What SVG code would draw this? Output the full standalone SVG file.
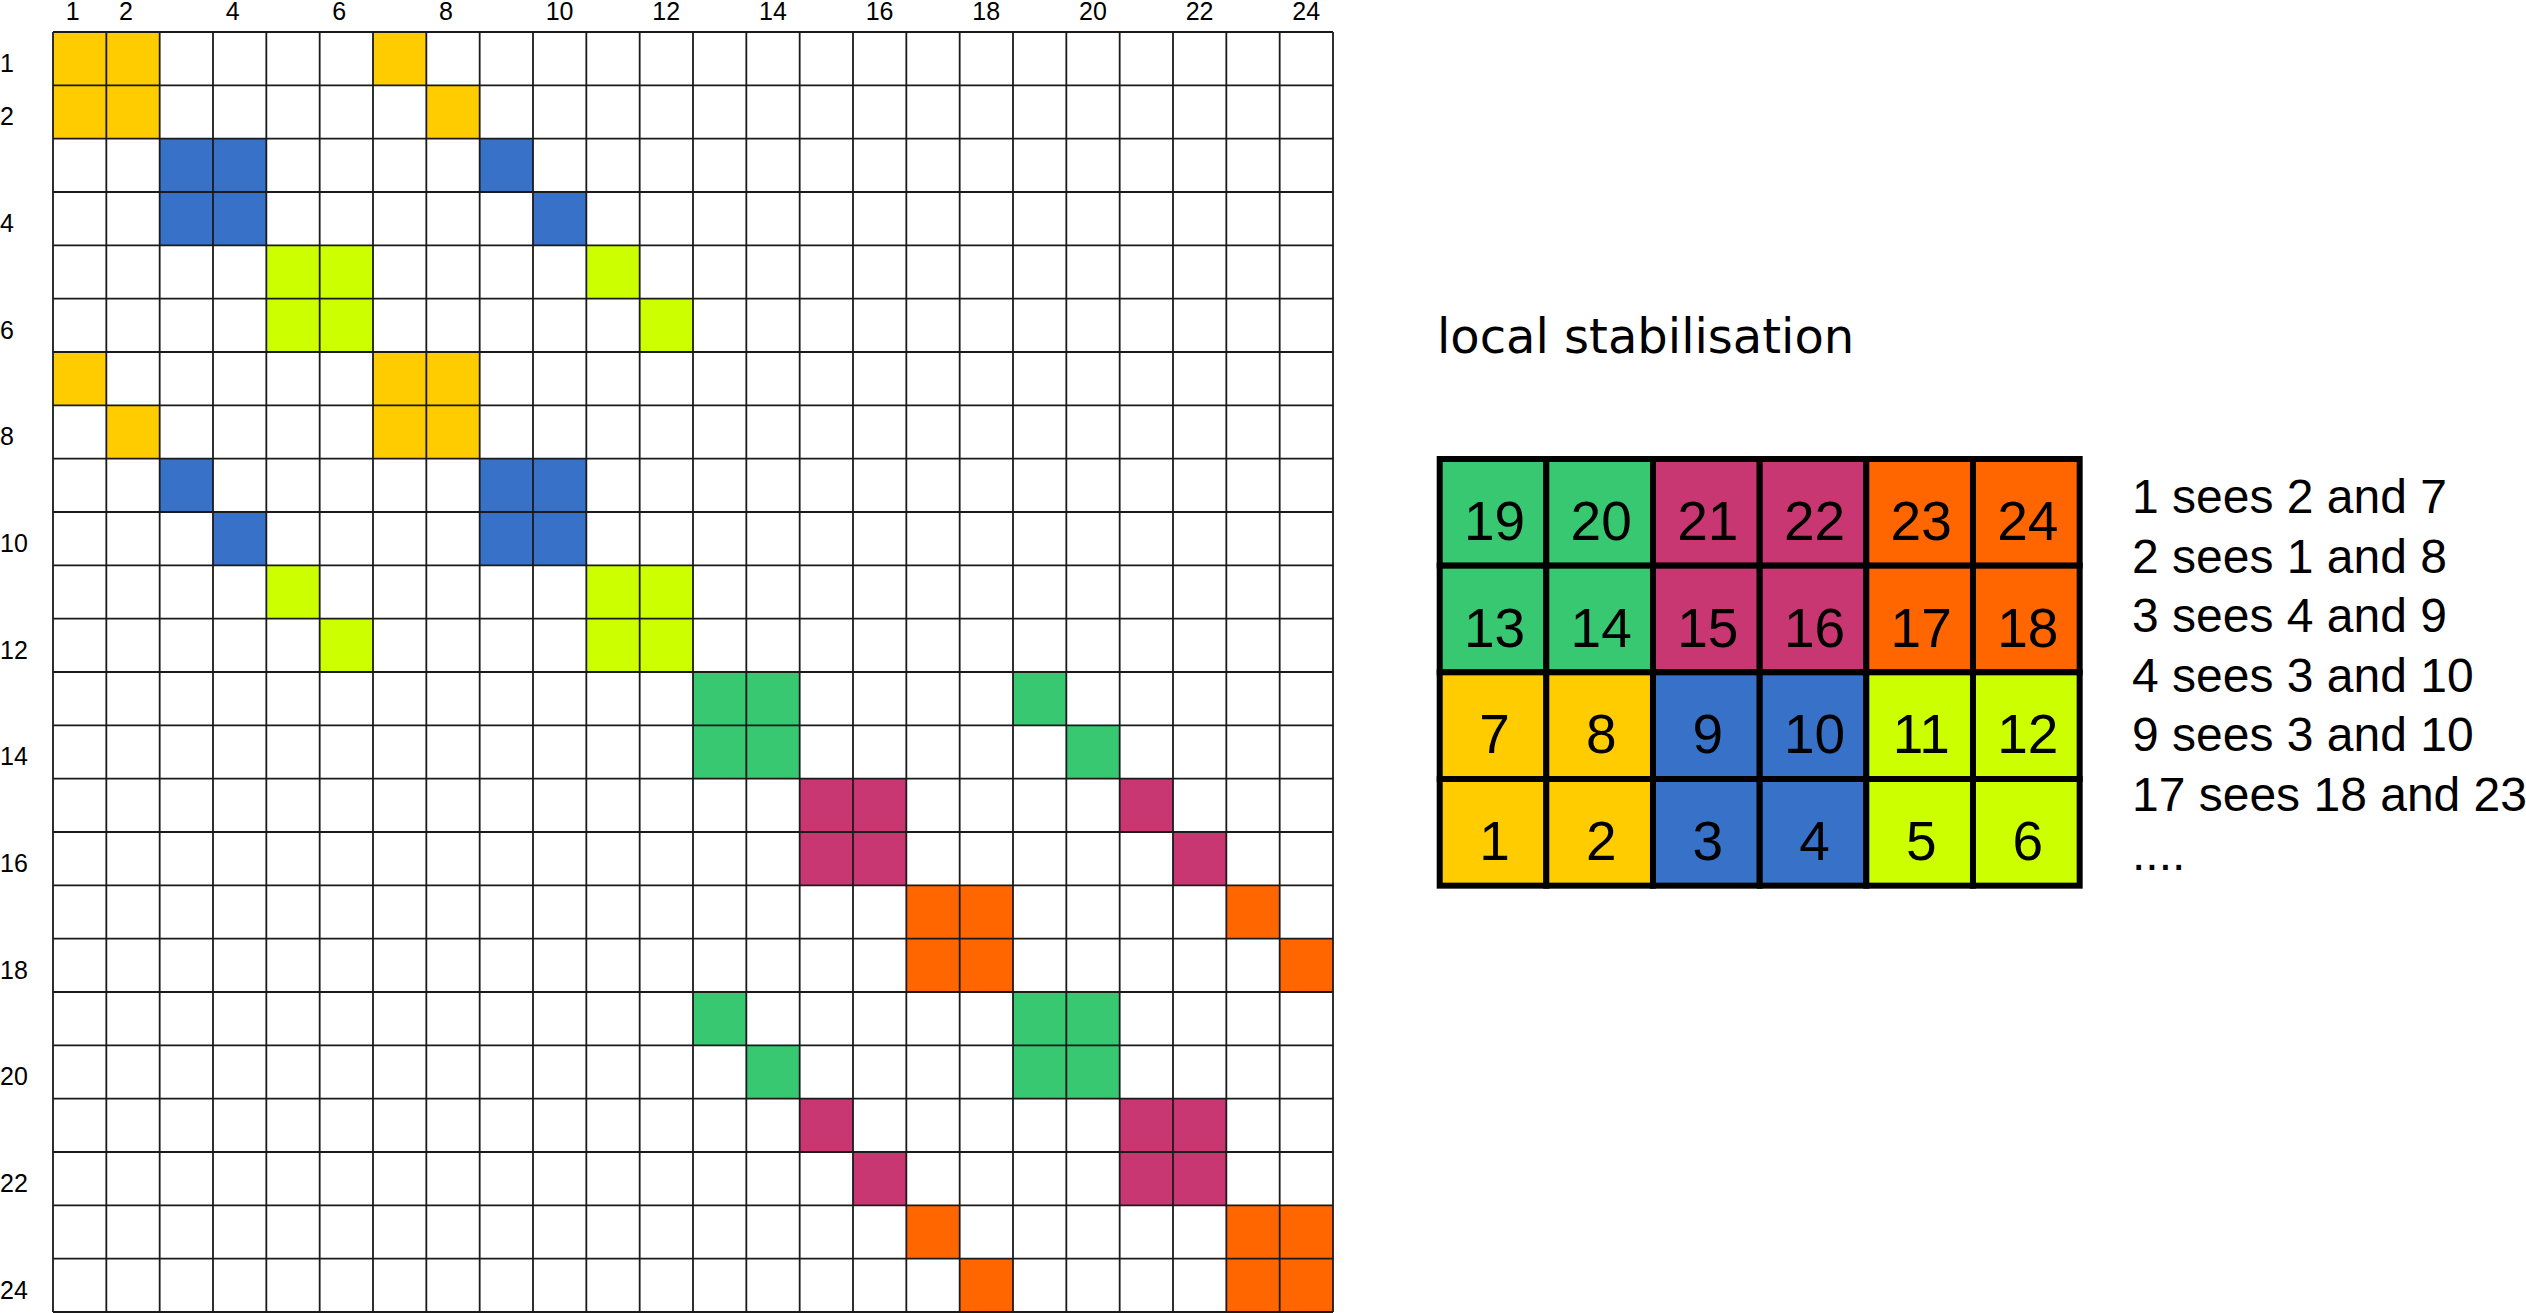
<svg xmlns="http://www.w3.org/2000/svg" width="2526" height="1313" viewBox="0 0 2526 1313">
<style>
.y{fill:#ffcc00}.b{fill:#3771c8}.l{fill:#ccff00}.g{fill:#37c871}.m{fill:#c83771}.o{fill:#ff6600}
.grid{fill:none;stroke:#1a1a1a;stroke-width:1.8}
.lab{font-family:"Liberation Sans",Arial,sans-serif;font-size:25px;fill:#000}
.cell{stroke:#000;stroke-width:6}
.num{font-family:"Liberation Sans",Arial,sans-serif;font-size:55px;fill:#000;text-anchor:middle}
.txt{font-family:"Liberation Sans",Arial,sans-serif;font-size:48px;fill:#000}
.title{font-family:"DejaVu Sans",sans-serif;font-size:48px;fill:#000}
</style>
<rect width="2526" height="1313" fill="#fff"/>
<g id="matrix">
<g id="fills">
<rect class="y" x="53" y="32" width="106.67" height="106.67"/>
<rect class="y" x="373" y="32" width="53.33" height="53.33"/>
<rect class="y" x="426.33" y="85.33" width="53.33" height="53.33"/>
<rect class="y" x="53" y="352" width="53.33" height="53.33"/>
<rect class="y" x="106.33" y="405.33" width="53.33" height="53.33"/>
<rect class="y" x="373" y="352" width="106.67" height="106.67"/>
<rect class="b" x="159.67" y="138.67" width="106.67" height="106.67"/>
<rect class="b" x="479.67" y="138.67" width="53.33" height="53.33"/>
<rect class="b" x="533" y="192" width="53.33" height="53.33"/>
<rect class="b" x="159.67" y="458.67" width="53.33" height="53.33"/>
<rect class="b" x="213" y="512" width="53.33" height="53.33"/>
<rect class="b" x="479.67" y="458.67" width="106.67" height="106.67"/>
<rect class="l" x="266.33" y="245.33" width="106.67" height="106.67"/>
<rect class="l" x="586.33" y="245.33" width="53.33" height="53.33"/>
<rect class="l" x="639.67" y="298.67" width="53.33" height="53.33"/>
<rect class="l" x="266.33" y="565.33" width="53.33" height="53.33"/>
<rect class="l" x="319.67" y="618.67" width="53.33" height="53.33"/>
<rect class="l" x="586.33" y="565.33" width="106.67" height="106.67"/>
<rect class="g" x="693" y="672" width="106.67" height="106.67"/>
<rect class="g" x="1013" y="672" width="53.33" height="53.33"/>
<rect class="g" x="1066.33" y="725.33" width="53.33" height="53.33"/>
<rect class="g" x="693" y="992" width="53.33" height="53.33"/>
<rect class="g" x="746.33" y="1045.33" width="53.33" height="53.33"/>
<rect class="g" x="1013" y="992" width="106.67" height="106.67"/>
<rect class="m" x="799.67" y="778.67" width="106.67" height="106.67"/>
<rect class="m" x="1119.67" y="778.67" width="53.33" height="53.33"/>
<rect class="m" x="1173" y="832" width="53.33" height="53.33"/>
<rect class="m" x="799.67" y="1098.67" width="53.33" height="53.33"/>
<rect class="m" x="853" y="1152" width="53.33" height="53.33"/>
<rect class="m" x="1119.67" y="1098.67" width="106.67" height="106.67"/>
<rect class="o" x="906.33" y="885.33" width="106.67" height="106.67"/>
<rect class="o" x="1226.33" y="885.33" width="53.33" height="53.33"/>
<rect class="o" x="1279.67" y="938.67" width="53.33" height="53.33"/>
<rect class="o" x="906.33" y="1205.33" width="53.33" height="53.33"/>
<rect class="o" x="959.67" y="1258.67" width="53.33" height="53.33"/>
<rect class="o" x="1226.33" y="1205.33" width="106.67" height="106.67"/>
</g>
<path class="grid" d="M53,32H1333M53,85.33H1333M53,138.67H1333M53,192H1333M53,245.33H1333M53,298.67H1333M53,352H1333M53,405.33H1333M53,458.67H1333M53,512H1333M53,565.33H1333M53,618.67H1333M53,672H1333M53,725.33H1333M53,778.67H1333M53,832H1333M53,885.33H1333M53,938.67H1333M53,992H1333M53,1045.33H1333M53,1098.67H1333M53,1152H1333M53,1205.33H1333M53,1258.67H1333M53,1312H1333
M53,32V1312M106.33,32V1312M159.67,32V1312M213,32V1312M266.33,32V1312M319.67,32V1312M373,32V1312M426.33,32V1312M479.67,32V1312M533,32V1312M586.33,32V1312M639.67,32V1312M693,32V1312M746.33,32V1312M799.67,32V1312M853,32V1312M906.33,32V1312M959.67,32V1312M1013,32V1312M1066.33,32V1312M1119.67,32V1312M1173,32V1312M1226.33,32V1312M1279.67,32V1312M1333,32V1312"/>
<g id="col-labels" class="lab">
<text x="65.7" y="20">1</text><text x="119" y="20">2</text><text x="225.7" y="20">4</text><text x="332.3" y="20">6</text><text x="439" y="20">8</text><text x="545.7" y="20">10</text><text x="652.3" y="20">12</text><text x="759" y="20">14</text><text x="865.7" y="20">16</text><text x="972.3" y="20">18</text><text x="1079" y="20">20</text><text x="1185.7" y="20">22</text><text x="1292.3" y="20">24</text>
</g>
<g id="row-labels" class="lab">
<text x="0" y="72">1</text><text x="0" y="125.3">2</text><text x="0" y="232">4</text><text x="0" y="338.7">6</text><text x="0" y="445.3">8</text><text x="0" y="552">10</text><text x="0" y="658.7">12</text><text x="0" y="765.3">14</text><text x="0" y="872">16</text><text x="0" y="978.7">18</text><text x="0" y="1085.3">20</text><text x="0" y="1192">22</text><text x="0" y="1298.7">24</text>
</g>
</g>
<text id="title" class="title" x="1437" y="353">local stabilisation</text>
<g id="mesh">
<g id="c19"><rect class="cell g" x="1439.7" y="459" width="106.67" height="106.67"/><text class="num" x="1494.5" y="540">19</text></g>
<g id="c20"><rect class="cell g" x="1546.3" y="459" width="106.67" height="106.67"/><text class="num" x="1601.2" y="540">20</text></g>
<g id="c21"><rect class="cell m" x="1653" y="459" width="106.67" height="106.67"/><text class="num" x="1707.8" y="540">21</text></g>
<g id="c22"><rect class="cell m" x="1759.7" y="459" width="106.67" height="106.67"/><text class="num" x="1814.5" y="540">22</text></g>
<g id="c23"><rect class="cell o" x="1866.3" y="459" width="106.67" height="106.67"/><text class="num" x="1921.2" y="540">23</text></g>
<g id="c24"><rect class="cell o" x="1973" y="459" width="106.67" height="106.67"/><text class="num" x="2027.8" y="540">24</text></g>
<g id="c13"><rect class="cell g" x="1439.7" y="565.67" width="106.67" height="106.67"/><text class="num" x="1494.5" y="646.7">13</text></g>
<g id="c14"><rect class="cell g" x="1546.3" y="565.67" width="106.67" height="106.67"/><text class="num" x="1601.2" y="646.7">14</text></g>
<g id="c15"><rect class="cell m" x="1653" y="565.67" width="106.67" height="106.67"/><text class="num" x="1707.8" y="646.7">15</text></g>
<g id="c16"><rect class="cell m" x="1759.7" y="565.67" width="106.67" height="106.67"/><text class="num" x="1814.5" y="646.7">16</text></g>
<g id="c17"><rect class="cell o" x="1866.3" y="565.67" width="106.67" height="106.67"/><text class="num" x="1921.2" y="646.7">17</text></g>
<g id="c18"><rect class="cell o" x="1973" y="565.67" width="106.67" height="106.67"/><text class="num" x="2027.8" y="646.7">18</text></g>
<g id="c7"><rect class="cell y" x="1439.7" y="672.33" width="106.67" height="106.67"/><text class="num" x="1494.5" y="753.3">7</text></g>
<g id="c8"><rect class="cell y" x="1546.3" y="672.33" width="106.67" height="106.67"/><text class="num" x="1601.2" y="753.3">8</text></g>
<g id="c9"><rect class="cell b" x="1653" y="672.33" width="106.67" height="106.67"/><text class="num" x="1707.8" y="753.3">9</text></g>
<g id="c10"><rect class="cell b" x="1759.7" y="672.33" width="106.67" height="106.67"/><text class="num" x="1814.5" y="753.3">10</text></g>
<g id="c11"><rect class="cell l" x="1866.3" y="672.33" width="106.67" height="106.67"/><text class="num" x="1921.2" y="753.3">11</text></g>
<g id="c12"><rect class="cell l" x="1973" y="672.33" width="106.67" height="106.67"/><text class="num" x="2027.8" y="753.3">12</text></g>
<g id="c1"><rect class="cell y" x="1439.7" y="779" width="106.67" height="106.67"/><text class="num" x="1494.5" y="860">1</text></g>
<g id="c2"><rect class="cell y" x="1546.3" y="779" width="106.67" height="106.67"/><text class="num" x="1601.2" y="860">2</text></g>
<g id="c3"><rect class="cell b" x="1653" y="779" width="106.67" height="106.67"/><text class="num" x="1707.8" y="860">3</text></g>
<g id="c4"><rect class="cell b" x="1759.7" y="779" width="106.67" height="106.67"/><text class="num" x="1814.5" y="860">4</text></g>
<g id="c5"><rect class="cell l" x="1866.3" y="779" width="106.67" height="106.67"/><text class="num" x="1921.2" y="860">5</text></g>
<g id="c6"><rect class="cell l" x="1973" y="779" width="106.67" height="106.67"/><text class="num" x="2027.8" y="860">6</text></g>
</g>
<g id="notes" class="txt">
<text x="2132" y="513">1 sees 2 and 7</text>
<text x="2132" y="572.5">2 sees 1 and 8</text>
<text x="2132" y="632">3 sees 4 and 9</text>
<text x="2132" y="691.5">4 sees 3 and 10</text>
<text x="2132" y="751">9 sees 3 and 10</text>
<text x="2132" y="810.5">17 sees 18 and 23</text>
<text x="2132" y="870">....</text>
</g>
<g id="connectors"/>
</svg>
